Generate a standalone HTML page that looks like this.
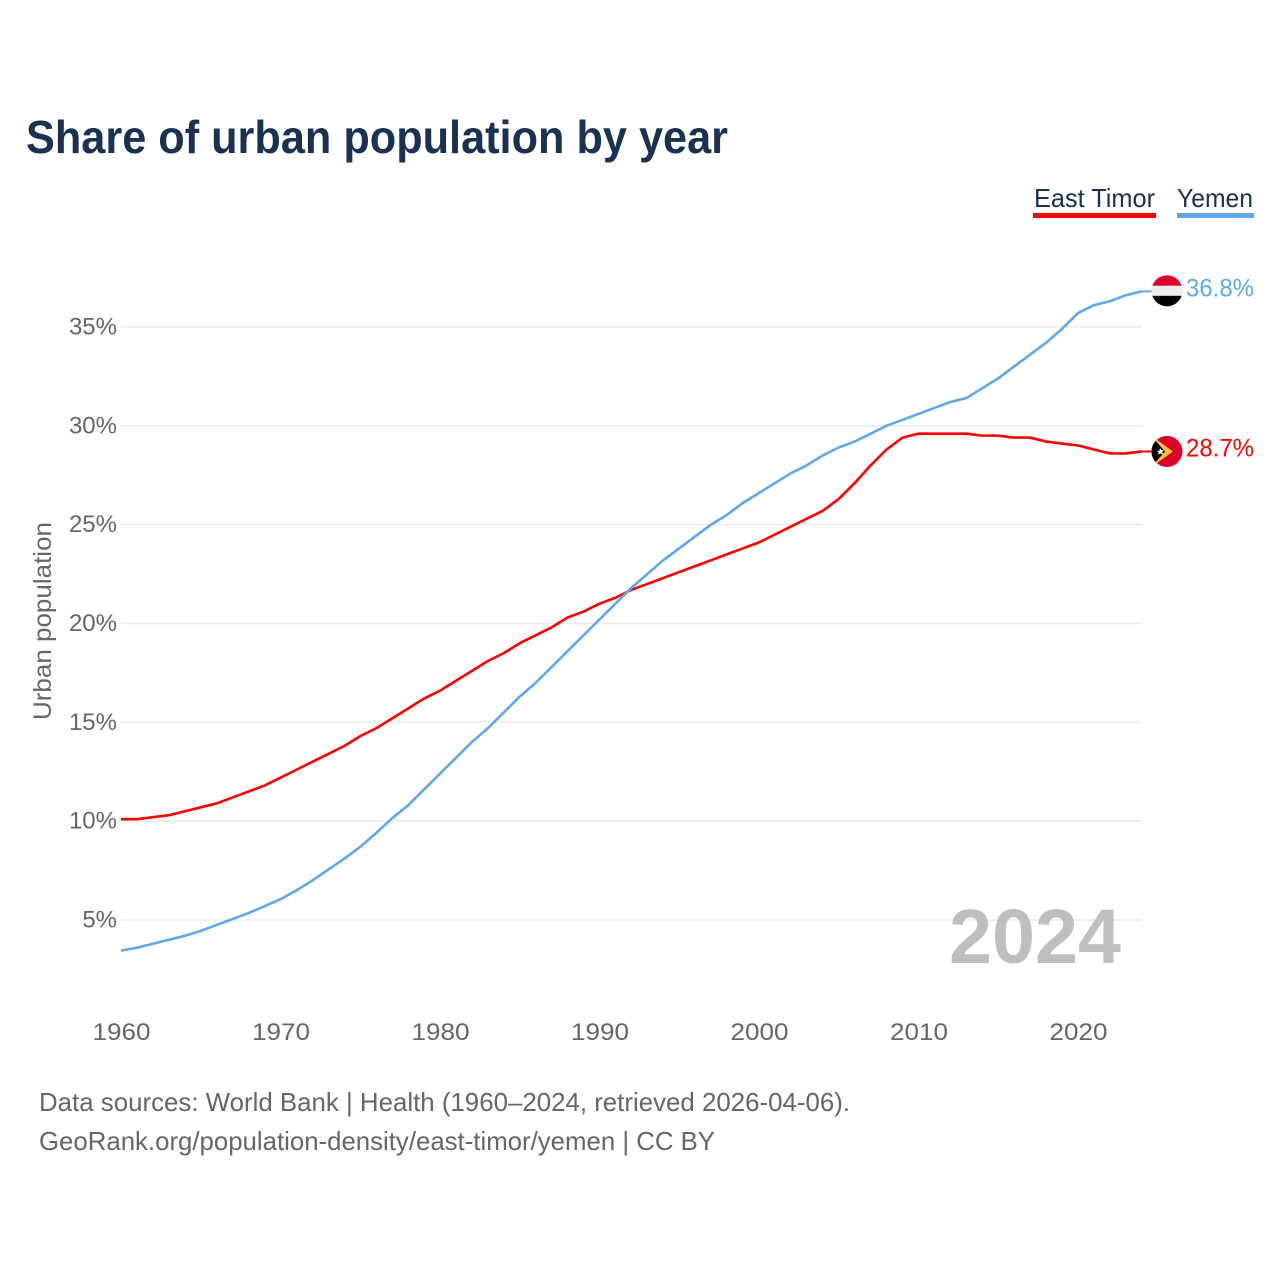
<!DOCTYPE html>
<html lang="en">
<head>
<meta charset="utf-8">
<title>Share of urban population by year</title>
<style>
  html, body { margin: 0; padding: 0; background: #fff; }
  svg { display: block; font-family: "Liberation Sans", Arial, sans-serif; }
</style>
</head>
<body>
<svg id="chart" xmlns="http://www.w3.org/2000/svg" width="1280" height="1280" viewBox="0 0 1280 1280">
  <rect width="1280" height="1280" fill="#ffffff"/>
  <text x="26" y="153" font-size="46" font-weight="700" fill="#1a3152" textLength="702" lengthAdjust="spacingAndGlyphs">Share of urban population by year</text>

  <g>
    <text x="1034" y="207" font-size="26" fill="#1a3152" textLength="121" lengthAdjust="spacingAndGlyphs">East Timor</text>
    <rect x="1033" y="213" width="123" height="5" fill="#ff0000"/>
  </g>
  <g>
    <text x="1177" y="207" font-size="26" fill="#1a3152" textLength="76" lengthAdjust="spacingAndGlyphs">Yemen</text>
    <rect x="1177" y="213" width="77" height="5" fill="#5fa8ee"/>
  </g>

  <g id="grid"></g>
  <g id="yticks"></g>
  <g id="xticks"></g>
  <text transform="translate(51,621) rotate(-90)" text-anchor="middle" font-size="25" fill="#666666" textLength="198" lengthAdjust="spacingAndGlyphs">Urban population</text>

  <text x="949" y="963" font-size="77" font-weight="700" fill="#bfbfbf" textLength="172" lengthAdjust="spacingAndGlyphs">2024</text>

  <g id="series"></g>

  <defs>
    <clipPath id="yemen-clip"><circle cx="0" cy="0" r="15.5"/></clipPath>
    <clipPath id="timor-clip"><circle cx="0" cy="0" r="15.5"/></clipPath>
  </defs>
  <g id="flag-yemen">
    <g clip-path="url(#yemen-clip)">
      <rect x="-16" y="-16" width="32" height="11" fill="#d9002b"/>
      <rect x="-16" y="-5" width="32" height="10" fill="#eeeeee"/>
      <rect x="-16" y="5" width="32" height="11" fill="#000000"/>
    </g>
  </g>
  <g id="flag-timor">
    <g clip-path="url(#timor-clip)">
      <rect x="-16" y="-16" width="32" height="32" fill="#d9002b"/>
      <polygon points="-16,-16 6,0 -16,16" fill="#f7c234"/>
      <polygon points="-16,-16 -2,0 -16,16" fill="#000000"/>
      <polygon points="-10,0 -7.6,-1 -7,-3.4 -5.6,-1.2 -3,-1.2 -4.8,0.6 -4,3.2 -6.8,2 -9,3.2 -8.4,0.8" fill="#ffffff"/>
    </g>
  </g>
  <text id="label-yemen" font-size="25" fill="#5fa8ee" x="1186" textLength="68" lengthAdjust="spacingAndGlyphs"></text>
  <text id="label-timor" font-size="25" fill="#ff0000" x="1186" textLength="68" lengthAdjust="spacingAndGlyphs"></text>

  <text x="39" y="1111" font-size="26" fill="#666666" textLength="811" lengthAdjust="spacingAndGlyphs">Data sources: World Bank | Health (1960–2024, retrieved 2026-04-06).</text>
  <a><text x="39" y="1150" font-size="26" fill="#666666" textLength="676" lengthAdjust="spacingAndGlyphs">GeoRank.org/population-density/east-timor/yemen | CC BY</text></a>
</svg>
<script>
const years = [1960,1961,1962,1963,1964,1965,1966,1967,1968,1969,1970,1971,1972,1973,1974,1975,1976,1977,1978,1979,1980,1981,1982,1983,1984,1985,1986,1987,1988,1989,1990,1991,1992,1993,1994,1995,1996,1997,1998,1999,2000,2001,2002,2003,2004,2005,2006,2007,2008,2009,2010,2011,2012,2013,2014,2015,2016,2017,2018,2019,2020,2021,2022,2023,2024];
const eastTimor = [10.1,10.1,10.2,10.3,10.5,10.7,10.9,11.2,11.5,11.8,12.2,12.6,13.0,13.4,13.8,14.3,14.7,15.2,15.7,16.2,16.6,17.1,17.6,18.1,18.5,19.0,19.4,19.8,20.3,20.6,21.0,21.3,21.7,22.0,22.3,22.6,22.9,23.2,23.5,23.8,24.1,24.5,24.9,25.3,25.7,26.3,27.1,28.0,28.8,29.4,29.6,29.6,29.6,29.6,29.5,29.5,29.4,29.4,29.2,29.1,29.0,28.8,28.6,28.6,28.7];
const yemen = [3.45,3.6,3.8,4.0,4.2,4.45,4.75,5.05,5.35,5.7,6.05,6.5,7.0,7.55,8.1,8.7,9.4,10.15,10.8,11.6,12.4,13.2,14.0,14.7,15.5,16.3,17.0,17.8,18.6,19.4,20.2,21.0,21.8,22.5,23.2,23.8,24.4,25.0,25.5,26.1,26.6,27.1,27.6,28.0,28.5,28.9,29.2,29.6,30.0,30.3,30.6,30.9,31.2,31.4,31.9,32.4,33.0,33.6,34.2,34.9,35.7,36.1,36.3,36.6,36.8];
const yTickValues = [5,10,15,20,25,30,35];
const xTickValues = [1960,1970,1980,1990,2000,2010,2020];

const NS = 'http://www.w3.org/2000/svg';
const xScale = function (year) { return 121 + (year - 1960) * 15.95; };
const yScale = function (value) { return 920 - (value - 5) * 19.77; };
const plotRight = 1142;
const flagX = 1167;

function make(parent, tag, attrs, content) {
  const el = document.createElementNS(NS, tag);
  Object.keys(attrs).forEach(function (k) { el.setAttribute(k, attrs[k]); });
  if (content !== undefined) el.textContent = content;
  parent.appendChild(el);
  return el;
}

const grid = document.getElementById('grid');
const yticks = document.getElementById('yticks');
const xticks = document.getElementById('xticks');
const seriesGroup = document.getElementById('series');

yTickValues.forEach(function (v) {
  const line = make(grid, 'line', { x1: 121, x2: plotRight, y1: yScale(v), y2: yScale(v), stroke: '#ececec', 'stroke-width': 1.5 });
  
  
  const label = make(yticks, 'text', { x: 117, y: yScale(v) + 7.5, 'text-anchor': 'end', 'font-size': 24, fill: '#666666' }, v + '%');
  
  
});

xTickValues.forEach(function (yr) {
  const label = make(xticks, 'text', { x: xScale(yr) + 0.5, y: 1040, 'text-anchor': 'middle', 'font-size': 24, fill: '#666666', textLength: 58, lengthAdjust: 'spacingAndGlyphs' }, String(yr));
  
  
});

function drawSeries(values, color, name) {
  const pts = values.map(function (v, i) { return xScale(years[i]).toFixed(2) + ',' + yScale(v).toFixed(2); });
  const line = make(seriesGroup, 'polyline', { points: pts.join(' '), fill: 'none', stroke: color, 'stroke-width': 2.6, 'stroke-linejoin': 'round' });
  
  
  const lastY = yScale(values[values.length - 1]);
  const lastX = xScale(years[years.length - 1]);
  const connector = make(seriesGroup, 'line', { x1: lastX, y1: lastY, x2: flagX, y2: lastY, stroke: color, 'stroke-width': 2 });
  
  
  return lastY;
}

const yTimor = drawSeries(eastTimor, '#ff0000', 'east-timor-line');
const yYemen = drawSeries(yemen, '#5fa8ee', 'yemen-line');

document.getElementById('flag-yemen').setAttribute('transform', 'translate(' + flagX + ',' + (yYemen - 0.5) + ')');
document.getElementById('flag-timor').setAttribute('transform', 'translate(' + flagX + ',' + yTimor + ')');

const labelYemen = document.getElementById('label-yemen');
labelYemen.setAttribute('y', yYemen + 5);
labelYemen.textContent = yemen[yemen.length - 1].toFixed(1) + '%';
const labelTimor = document.getElementById('label-timor');
labelTimor.setAttribute('y', yTimor + 5);
labelTimor.textContent = eastTimor[eastTimor.length - 1].toFixed(1) + '%';
</script>
</body>
</html>
